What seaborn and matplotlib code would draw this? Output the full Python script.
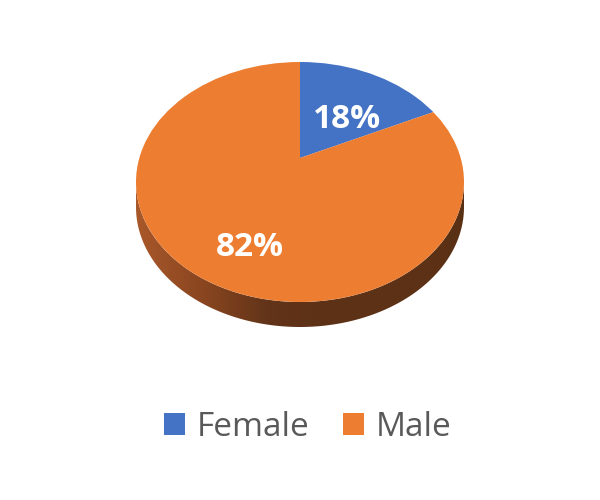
import numpy as np
import matplotlib
matplotlib.use("Agg")
import matplotlib.pyplot as plt
import seaborn as sns
from matplotlib.path import Path
from matplotlib.patches import Patch
from matplotlib.colors import LinearSegmentedColormap

# data
labels = ["Female", "Male"]
shares = [18, 82]
colors = ["#4472C4", "#ED7D31"]

sns.set_theme(style="white")
plt.rcParams['font.family'] = ['Open Sans', 'DejaVu Sans']

# geometry of the tilted disc (pixels)
W, H = 600, 500
CX, CY = 300, 182
RX, RY = 164, 120
DEPTH = 25 / RY
TILT = (CY - 158) / RY  # apparent centre shift from perspective

fig = plt.figure(figsize=(6, 5), dpi=100)
ax = fig.add_axes([0, 0, 1, 1])
xlim = (-CX / RX, (W - CX) / RX)
ylim = (-(H - CY) / RY, CY / RY)

# top face
wedges, texts, autotexts = ax.pie(
    shares, colors=colors, startangle=90, counterclock=False,
    center=(0, TILT), radius=1.5, autopct='%1.0f%%',
    wedgeprops=dict(linewidth=0),
    textprops=dict(color='white', fontsize=24, fontweight='bold'))

ax.set_xlim(*xlim)
ax.set_ylim(*ylim)
ax.set_aspect('auto')
ax.axis('off')

# pie wedges are unclipped by default; clip them to the elliptical top face
top_path = Path.unit_circle()
for w in wedges:
    w.set_clip_on(True)
    w.set_clip_path(top_path, ax.transData)
    w.set_zorder(2)

label_pos = [(0.287, 0.517), (-0.305, -0.545)]
for txt, pos in zip(autotexts, label_pos):
    txt.set_position(pos)
    txt.set_zorder(3)

# side wall of the disc with a brown gradient
t = np.linspace(np.pi, 2 * np.pi, 200)
lower = np.column_stack([np.cos(t), np.sin(t) - DEPTH])
upper = np.column_stack([np.cos(t[::-1]), np.sin(t[::-1])])
side_path = Path(np.vstack([lower, upper, lower[:1]]), closed=True)
side_cmap = LinearSegmentedColormap.from_list(
    "side", ["#A9582A", "#8A4620", "#623419", "#5C3116", "#5E3216", "#5A3015"])
grad = np.linspace(0, 1, 256).reshape(1, -1)
im = ax.imshow(grad, cmap=side_cmap, extent=(-1, 1, -1 - DEPTH, 0), aspect='auto', zorder=1)
im.set_clip_path(side_path, ax.transData)
ax.set_xlim(*xlim)
ax.set_ylim(*ylim)

handles = [Patch(facecolor=c, edgecolor='none') for c in colors]
ax.legend(handles, labels, loc='center', bbox_to_anchor=(308 / W, 1 - 427 / H),
          ncol=2, frameon=False, fontsize=24, handlelength=0.63, handleheight=0.63,
          handletextpad=0.36, columnspacing=1.0, labelcolor='#595959')

fig.savefig("out.png", dpi=100, facecolor='white')
